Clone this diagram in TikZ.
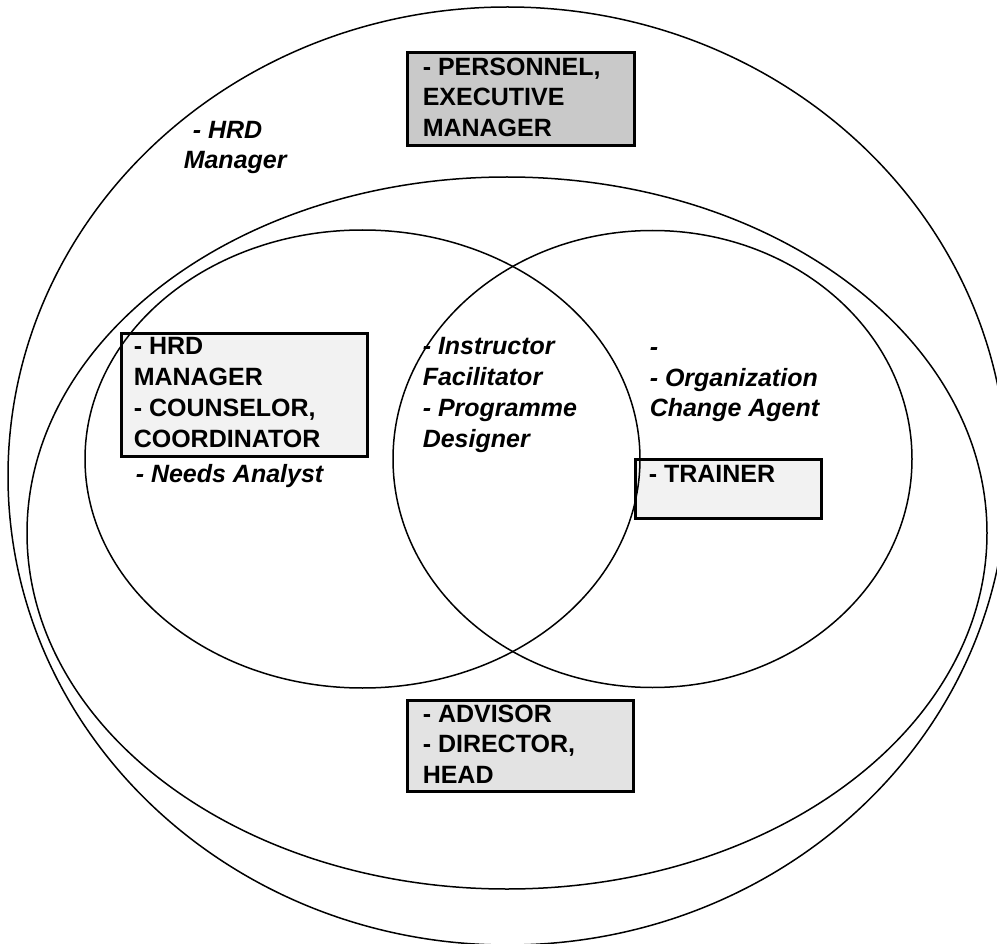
\documentclass[tikz,border=0pt]{standalone}
\usepackage{fontspec}
\setmainfont{Liberation Sans}
\usetikzlibrary{positioning}
\definecolor{boxdark}{gray}{0.79}
\definecolor{boxmid}{gray}{0.89}
\definecolor{boxlight}{gray}{0.95}

\begin{document}
\begin{tikzpicture}[x=1pt, y=-1pt, line width=1.5pt,
                    role/.style={font=\fontsize{25}{30.7}\selectfont\bfseries,
                                 align=left, inner sep=0pt, anchor=base west},
                    duty/.style={role, font=\fontsize{25}{30.7}\selectfont\bfseries\itshape},
                    rolebox/.style={draw, line width=3pt, inner sep=0pt, anchor=north west}, ]
\clip (0,0) rectangle (997,944);

% boxes
\node[rolebox, fill=boxdark, minimum width=227, minimum height=93] (personnel) at (405.5,51.5) {};
\node[rolebox, fill=boxlight, minimum width=246, minimum height=122] (hrd) at (119.5,332.5) {};
\node[rolebox, fill=boxlight, minimum width=186, minimum height=59] (trainer) at (633.5,457.5) {};
\node[rolebox, fill=boxmid, minimum width=226, minimum height=91] (advisor) at (405.5,698.5) {};

% ellipses
\draw (507.5,476) ellipse [x radius=499.5, y radius=469];
\draw (507,533) ellipse [x radius=480, y radius=356];
\draw (362.5,459) ellipse [x radius=277.5, y radius=229];
\draw (652.5,459) ellipse [x radius=259.5, y radius=228.5];

% texts (placed at the baseline of their last line)
\node[role] (personneltext) at (422,136.5) {- PERSONNEL,\\EXECUTIVE\\MANAGER};
\node[role] (hrdtext) at (133,447) {- HRD\\MANAGER\\- COUNSELOR,\\COORDINATOR};
\node[role] (trainertext) at (648,482) {- TRAINER};
\node[role] (advisortext) at (422,783.5) {- ADVISOR\\- DIRECTOR,\\HEAD};
\node[duty] (manager) at (183,169) {\hspace*{9pt}- HRD\\Manager};
\node[duty] (analyst) at (135,482) {- Needs Analyst};
\node[duty] (instructor) at (422,447) {- Instructor\\Facilitator\\- Programme\\Designer};
\node[duty] (agent) at (649,417) {-\\- Organization\\Change Agent};
\end{tikzpicture}
\end{document}
